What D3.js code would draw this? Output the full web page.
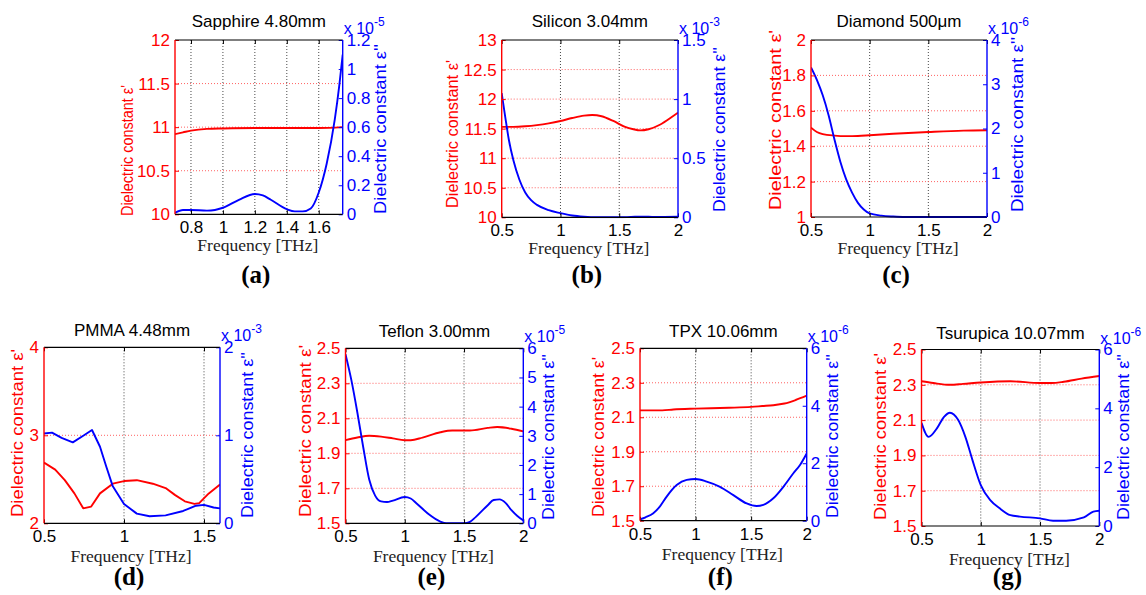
<!DOCTYPE html>
<html><head><meta charset="utf-8">
<script src="https://cdn.jsdelivr.net/npm/d3@7/dist/d3.min.js"></script>
<style>
body{margin:0;background:#fff;}
svg text{font-family:"Liberation Sans",Arial,Helvetica,sans-serif;}
</style></head><body>
<svg id="fig" width="1146" height="595"></svg>
<script>
// ---- measured permittivity, [frequency THz, value] ----
const sapphireRe = [[0.70,10.92],[0.75,10.94],[0.80,10.96],[0.90,10.98],[1.00,10.985],[1.20,10.99],[1.40,10.99],[1.60,10.99],[1.75,11.00]];
const sapphireIm = [[0.70,0.01],[0.75,0.03],[0.80,0.03],[0.90,0.025],[0.95,0.03],[1.00,0.045],[1.10,0.10],[1.20,0.14],[1.25,0.13],[1.30,0.10],[1.40,0.035],[1.45,0.02],[1.50,0.02],[1.55,0.04],[1.60,0.15],[1.65,0.35],[1.70,0.65],[1.73,0.90],[1.75,1.10]];
const siliconRe = [[0.5,11.53],[0.6,11.53],[0.7,11.54],[0.8,11.56],[0.9,11.59],[1.0,11.63],[1.1,11.68],[1.2,11.72],[1.27,11.73],[1.35,11.71],[1.45,11.63],[1.55,11.53],[1.62,11.49],[1.68,11.47],[1.75,11.49],[1.85,11.57],[1.95,11.70],[2.0,11.77]];
const siliconIm = [[0.5,1.05],[0.53,0.85],[0.56,0.66],[0.6,0.48],[0.65,0.32],[0.7,0.21],[0.75,0.145],[0.8,0.105],[0.9,0.06],[1.0,0.035],[1.1,0.015],[1.2,0.005],[1.3,0],[1.5,0],[1.6,0.003],[1.7,0.006],[1.8,0.003],[2.0,0.005]];
const diamondRe = [[0.5,1.505],[0.55,1.48],[0.6,1.468],[0.7,1.46],[0.8,1.457],[0.9,1.458],[1.0,1.462],[1.2,1.47],[1.5,1.48],[1.8,1.488],[2.0,1.49]];
const diamondIm = [[0.5,3.38],[0.55,3.1],[0.6,2.75],[0.65,2.3],[0.7,1.75],[0.75,1.25],[0.8,0.85],[0.85,0.55],[0.9,0.32],[0.95,0.17],[1.0,0.08],[1.1,0.03],[1.2,0.01],[1.3,0],[2.0,0]];
const pmmaRe = [[0.5,2.69],[0.57,2.61],[0.63,2.49],[0.69,2.34],[0.745,2.17],[0.795,2.19],[0.85,2.34],[0.93,2.45],[1.0,2.48],[1.08,2.49],[1.18,2.45],[1.26,2.40],[1.32,2.32],[1.38,2.25],[1.44,2.22],[1.47,2.23],[1.53,2.34],[1.6,2.44]];
const pmmaIm = [[0.5,1.02],[0.55,1.03],[0.61,0.97],[0.68,0.92],[0.75,1.0],[0.80,1.06],[0.85,0.87],[0.89,0.64],[0.93,0.42],[1.0,0.22],[1.08,0.11],[1.16,0.08],[1.26,0.09],[1.37,0.14],[1.45,0.20],[1.5,0.21],[1.56,0.18],[1.6,0.17]];
const teflonRe = [[0.5,1.975],[0.6,1.99],[0.7,2.0],[0.8,1.995],[0.9,1.985],[1.0,1.975],[1.05,1.975],[1.15,1.99],[1.3,2.02],[1.4,2.03],[1.55,2.03],[1.7,2.045],[1.78,2.05],[1.9,2.04],[2.0,2.025]];
const teflonIm = [[0.5,5.8],[0.55,4.9],[0.6,3.8],[0.65,2.6],[0.7,1.5],[0.75,0.95],[0.8,0.75],[0.85,0.73],[0.9,0.78],[1.0,0.9],[1.05,0.85],[1.1,0.68],[1.2,0.32],[1.3,0.06],[1.35,0.0],[1.5,0.0],[1.55,0.05],[1.6,0.22],[1.7,0.62],[1.75,0.8],[1.8,0.82],[1.85,0.7],[1.9,0.45],[1.95,0.25],[2.0,0.1]];
const tpxRe = [[0.5,2.14],[0.7,2.14],[0.8,2.145],[1.0,2.15],[1.3,2.155],[1.5,2.16],[1.6,2.165],[1.7,2.17],[1.8,2.18],[1.9,2.2],[2.0,2.225]];
const tpxIm = [[0.5,0.05],[0.55,0.12],[0.62,0.26],[0.68,0.5],[0.74,0.84],[0.83,1.24],[0.92,1.42],[1.0,1.45],[1.1,1.36],[1.22,1.18],[1.34,0.89],[1.46,0.6],[1.55,0.51],[1.61,0.55],[1.70,0.78],[1.79,1.18],[1.88,1.65],[1.94,1.94],[2.0,2.34]];
const tsurupicaRe = [[0.5,2.32],[0.6,2.31],[0.74,2.30],[0.85,2.305],[1.0,2.313],[1.25,2.32],[1.5,2.31],[1.6,2.31],[1.7,2.317],[1.85,2.335],[2.0,2.35]];
const tsurupicaIm = [[0.5,3.51],[0.56,3.03],[0.63,3.32],[0.69,3.71],[0.74,3.85],[0.81,3.6],[0.87,3.03],[0.93,2.24],[1.0,1.39],[1.08,0.88],[1.16,0.6],[1.25,0.37],[1.33,0.32],[1.5,0.26],[1.61,0.18],[1.72,0.18],[1.87,0.29],[1.95,0.49],[2.0,0.52]];

// ---- titles, letters, axis ranges and tick labels ----
const titles = ["Sapphire 4.80mm","Silicon 3.04mm","Diamond 500\u03bcm","PMMA 4.48mm","Teflon 3.00mm","TPX 10.06mm","Tsurupica 10.07mm"];
const letters = ["(a)","(b)","(c)","(d)","(e)","(f)","(g)"];
const exponents = ["-5","-3","-6","-3","-5","-6","-6"];
const freqRanges = [[0.7,1.75],[0.5,2],[0.5,2],[0.5,1.6],[0.5,2],[0.5,2],[0.5,2]];
const freqTicks = [[0.8,1,1.2,1.4,1.6],[0.5,1,1.5,2],[0.5,1,1.5,2],[0.5,1,1.5],[0.5,1,1.5,2],[0.5,1,1.5,2],[0.5,1,1.5,2]];
const realTicks = [[10,10.5,11,11.5,12],[10,10.5,11,11.5,12,12.5,13],[1,1.2,1.4,1.6,1.8,2],[2,3,4],[1.5,1.7,1.9,2.1,2.3,2.5],[1.5,1.7,1.9,2.1,2.3,2.5],[1.5,1.7,1.9,2.1,2.3,2.5]];
const imagTicks = [[0,0.2,0.4,0.6,0.8,1,1.2],[0,0.5,1,1.5],[0,1,2,3,4],[0,1,2],[0,1,2,3,4,5,6],[0,2,4,6],[0,2,4,6]];
const realSeries = [sapphireRe, siliconRe, diamondRe, pmmaRe, teflonRe, tpxRe, tsurupicaRe];
const imagSeries = [sapphireIm, siliconIm, diamondIm, pmmaIm, teflonIm, tpxIm, tsurupicaIm];

// ---- layout of each axes box: [left, right, top, bottom] and label geometry ----
const boxes = [[175,342.7,40,214.3],[501.7,678,40,217.3],[811,987,40,217],[44,220,347.3,523.3],[345.5,523.3,348.3,523.3],[640,806.7,348.3,520.7],[921.5,1099.3,349.5,526]];
// [centre x, bottom y, length] of the rotated axis labels
const leftLabelGeo = [[127,216,131],[452,208,148],[775,210,180],[17,517,168],[305,517,172],[598,517,160],[880,520,167]];
const rightLabelGeo = [[380,214,170],[719,212,165],[1017,212,175],[247,518,166],[548,520,166],[832,518,164],[1123,520,166]];

const RED = "#ff0000", BLUE = "#0000ff";
const svg = d3.select("#fig");
const fmt = v => String(+v.toFixed(3));

titles.forEach((title, i) => {
  const [x0, x1, y0, y1] = boxes[i];
  const g = svg.append("g");
  const x = d3.scaleLinear().domain(freqRanges[i]).range([x0, x1]);
  const yRe = d3.scaleLinear().domain(d3.extent(realTicks[i])).range([y1, y0]);
  const yIm = d3.scaleLinear().domain(d3.extent(imagTicks[i])).range([y1, y0]);

  const clipId = "clip" + i;
  g.append("clipPath").attr("id", clipId).append("rect")
    .attr("x", x0).attr("y", y0 - 1).attr("width", x1 - x0).attr("height", y1 - y0 + 2);

  // dotted grid: vertical at frequency ticks, horizontal (red) at real-part ticks
  g.append("g").selectAll("line")
    .data(freqTicks[i].filter(t => x(t) > x0 + 1 && x(t) < x1 - 1))
    .join("line")
    .attr("x1", d => x(d)).attr("x2", d => x(d)).attr("y1", y0).attr("y2", y1)
    .attr("stroke", "#333").attr("stroke-width", 0.9).attr("stroke-dasharray", "1,2");
  g.append("g").selectAll("line")
    .data(realTicks[i].filter(t => yRe(t) < y1 - 1 && yRe(t) > y0 + 1))
    .join("line")
    .attr("x1", x0).attr("x2", x1).attr("y1", d => yRe(d)).attr("y2", d => yRe(d))
    .attr("stroke", "#ff5050").attr("stroke-width", 0.9).attr("stroke-dasharray", "1,2");

  // curves
  const curve = i === 3 ? d3.curveLinear : d3.curveMonotoneX;
  const lineRe = d3.line().x(d => x(d[0])).y(d => yRe(d[1])).curve(curve);
  const lineIm = d3.line().x(d => x(d[0])).y(d => yIm(d[1])).curve(curve);
  const lines = g.append("g").attr("clip-path", `url(#${clipId})`);
  lines.append("path").attr("d", lineRe(realSeries[i])).attr("fill", "none")
    .attr("stroke", RED).attr("stroke-width", 1.9).attr("stroke-linejoin", "round");
  lines.append("path").attr("d", lineIm(imagSeries[i])).attr("fill", "none")
    .attr("stroke", BLUE).attr("stroke-width", 1.9).attr("stroke-linejoin", "round");

  // axes with inward ticks
  const styleAxis = (sel, color, size) => {
    sel.select(".domain").remove();
    sel.selectAll(".tick line").attr("stroke", color);
    sel.selectAll(".tick text").attr("fill", color).style("font-size", size + "px")
      .style("font-family", '"Liberation Sans",Arial,sans-serif');
  };
  const bottom = g.append("g").attr("transform", `translate(0,${y1})`)
    .call(d3.axisBottom(x).tickValues(freqTicks[i]).tickFormat(fmt).tickSize(-4).tickPadding(7));
  styleAxis(bottom, "#000", 17);
  const top = g.append("g").attr("transform", `translate(0,${y0})`)
    .call(d3.axisTop(x).tickValues(freqTicks[i]).tickFormat("").tickSize(-4));
  styleAxis(top, "#000", 17);
  const left = g.append("g").attr("transform", `translate(${x0},0)`)
    .call(d3.axisLeft(yRe).tickValues(realTicks[i]).tickFormat(fmt).tickSize(-4).tickPadding(5));
  styleAxis(left, RED, 17);
  const right = g.append("g").attr("transform", `translate(${x1},0)`)
    .call(d3.axisRight(yIm).tickValues(imagTicks[i]).tickFormat(fmt).tickSize(-4).tickPadding(4));
  styleAxis(right, BLUE, 17);

  // box edges
  g.append("line").attr("x1", x0).attr("x2", x1).attr("y1", y0).attr("y2", y0).attr("stroke", "#000").attr("stroke-width", 1.2);
  g.append("line").attr("x1", x0).attr("x2", x1).attr("y1", y1).attr("y2", y1).attr("stroke", "#000").attr("stroke-width", 1.2);
  g.append("line").attr("x1", x0).attr("x2", x0).attr("y1", y0).attr("y2", y1).attr("stroke", RED).attr("stroke-width", 1.4);
  g.append("line").attr("x1", x1).attr("x2", x1).attr("y1", y0).attr("y2", y1).attr("stroke", BLUE).attr("stroke-width", 1.4);

  // scale factor label for the imaginary part
  const ex = g.append("text").attr("x", x1 + 1).attr("y", y0 - 6).attr("fill", BLUE).style("font-size", "16px");
  ex.append("tspan").text("x 10");
  ex.append("tspan").attr("dy", -8).style("font-size", "12px").text(exponents[i]);

  // title
  g.append("text").attr("x", (x0 + x1) / 2).attr("y", i < 3 ? y0 - 13 : y0 - 11)
    .attr("text-anchor", "middle").style("font-size", "17px").attr("fill", "#000").text(title);

  // frequency axis label
  g.append("text").attr("x", (x0 + x1) / 2 - 1).attr("y", i < 3 ? y1 + 37 : y1 + 39)
    .attr("text-anchor", "middle").style("font-family", '"Liberation Serif","Times New Roman",serif')
    .style("font-size", "17.5px").attr("fill", "#222").text("Frequency [THz]");

  // rotated axis labels
  const [lx, ly, ll] = leftLabelGeo[i];
  g.append("text").attr("transform", `translate(${lx},${ly}) rotate(-90)`)
    .attr("dominant-baseline", "central").attr("text-anchor", "start")
    .attr("textLength", ll).attr("lengthAdjust", "spacingAndGlyphs")
    .style("font-size", "17px").attr("fill", RED).text("Dielectric constant \u03b5'");
  const [rx, ry, rl] = rightLabelGeo[i];
  g.append("text").attr("transform", `translate(${rx},${ry}) rotate(-90)`)
    .attr("dominant-baseline", "central").attr("text-anchor", "start")
    .attr("textLength", rl).attr("lengthAdjust", "spacingAndGlyphs")
    .style("font-size", "17px").attr("fill", BLUE).text("Dielectric constant \u03b5''");

  // panel letter
  g.append("text").attr("x", (x0 + x1) / 2 - 3).attr("y", i < 3 ? 283 : 585)
    .attr("text-anchor", "middle").style("font-family", '"Liberation Serif","Times New Roman",serif')
    .style("font-weight", "bold").style("font-size", "25px").attr("fill", "#000").text(letters[i]);
});
</script>
</body></html>
